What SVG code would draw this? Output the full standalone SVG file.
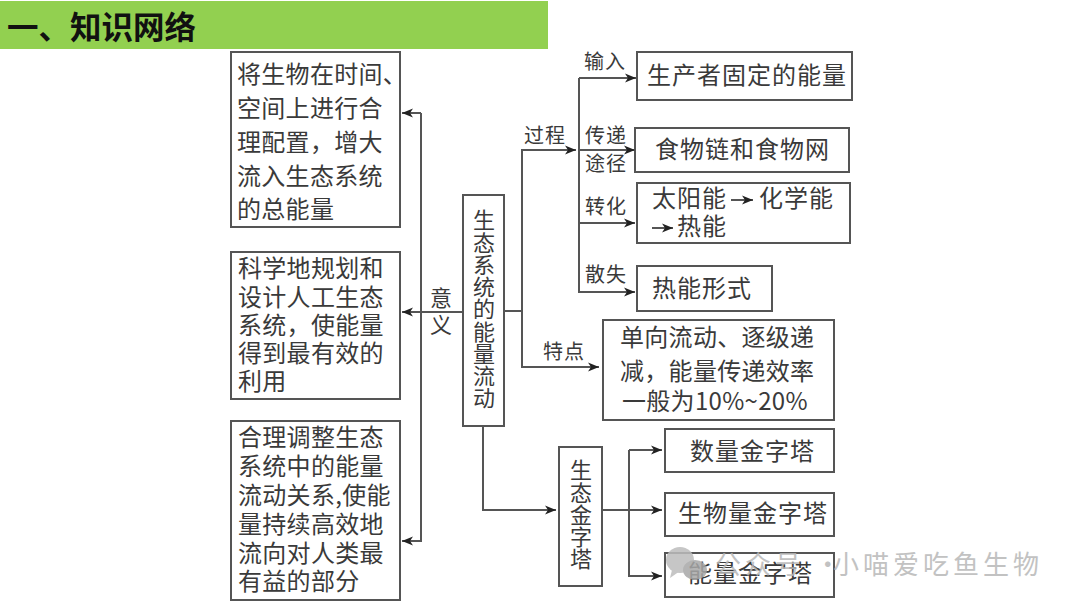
<svg xmlns="http://www.w3.org/2000/svg" width="1080" height="607" viewBox="0 0 1080 607">
<style>
text{font-family:"Noto Sans CJK SC","Noto Sans",sans-serif;dominant-baseline:central;fill:#3a3a3a}
.box{fill:#fff;stroke:#555;stroke-width:2}
.t{font-size:24px;letter-spacing:.3px}
.b{font-size:24px;letter-spacing:1px}
.l{font-size:20px;letter-spacing:1px}
.v{font-size:22px;writing-mode:vertical-rl;letter-spacing:.25px}
.c{fill:none;stroke:#555;stroke-width:2}
.w{fill:#b8b8b8;font-size:26px;letter-spacing:4px}
</style>
<defs>
<marker id="a" markerUnits="userSpaceOnUse" markerWidth="12" markerHeight="10" refX="11" refY="5" orient="auto"><path d="M0 .5L11 5L0 9.500L3 5Z" fill="#222"/></marker>
</defs>
<rect width="1080" height="607" fill="#fff"/>
<g id="title"><rect x="0" y="1" width="548" height="48" fill="#92d050"/><text x="7" y="24.500" style="font-size:31.500px;font-weight:700;fill:#111">一、知识网络</text></g>
<g id="node-meaning-1"><rect class="box" x="231" y="52" width="169" height="175"/>
<text class="t"><tspan x="237" y="71.500">将生物在时间、</tspan><tspan x="237" y="105.500">空间上进行合</tspan><tspan x="237" y="139.500">理配置，增大</tspan><tspan x="237" y="173.500">流入生态系统</tspan><tspan x="237" y="206.500">的总能量</tspan></text></g>
<g id="node-meaning-2"><rect class="box" x="231" y="252" width="169" height="147"/>
<text class="t"><tspan x="238" y="265.500">科学地规划和</tspan><tspan x="238" y="294.500">设计人工生态</tspan><tspan x="238" y="322.500">系统，使能量</tspan><tspan x="238" y="350.500">得到最有效的</tspan><tspan x="238" y="378.500">利用</tspan></text></g>
<g id="node-meaning-3"><rect class="box" x="231" y="421" width="169" height="179"/>
<text class="t"><tspan x="238" y="434.500">合理调整生态</tspan><tspan x="238" y="463.500">系统中的能量</tspan><tspan x="238" y="492.500">流动关系,使能</tspan><tspan x="238" y="521.500">量持续高效地</tspan><tspan x="238" y="550.500">流向对人类最</tspan><tspan x="238" y="578.500">有益的部分</tspan></text></g>
<g id="node-center"><rect class="box" x="463" y="195" width="41" height="231"/>
<text class="v" x="484" y="209">生态系统的能量流动</text></g>
<g id="node-producer"><rect class="box" x="637" y="52" width="215" height="48"/><text class="b" x="647" y="73.500">生产者固定的能量</text></g>
<g id="node-foodchain"><rect class="box" x="635" y="128" width="214" height="44"/><text class="b" x="655" y="147.500">食物链和食物网</text></g>
<g id="node-convert"><rect class="box" x="637" y="183" width="213" height="60"/>
<text class="b" x="652" y="196.500">太阳能</text><line class="c" x1="731" y1="200" x2="753" y2="200" marker-end="url(#a)"/><text class="b" x="759" y="196.500">化学能</text>
<line class="c" x1="652" y1="228" x2="673" y2="228" marker-end="url(#a)"/><text class="b" x="677" y="224.500">热能</text></g>
<g id="node-heat"><rect class="box" x="637" y="266" width="135" height="45"/><text class="b" x="652" y="286.500">热能形式</text></g>
<g id="node-feature"><rect class="box" x="603" y="320" width="231" height="100"/>
<text class="t"><tspan x="620" y="334.500">单向流动、逐级递</tspan><tspan x="620" y="368.500">减，能量传递效率</tspan><tspan x="622" y="398.500">一般为10%~20%</tspan></text></g>
<g id="node-pyramid"><rect class="box" x="559" y="447" width="43" height="139"/>
<text class="v" x="581" y="459">生态金字塔</text></g>
<g id="node-number"><rect class="box" x="665" y="429" width="169" height="43"/><text class="b" x="690" y="449.500">数量金字塔</text></g>
<g id="node-biomass"><rect class="box" x="665" y="493" width="169" height="43"/><text class="b" x="678" y="511.500">生物量金字塔</text></g>
<g id="node-energy"><rect class="box" x="665" y="553" width="169" height="44"/><text class="b" x="688" y="571.500">能量金字塔</text></g>
<g id="connectors">
<path class="c" d="M463 312H402" marker-end="url(#a)"/>
<path class="c" d="M421 113V541H402" marker-end="url(#a)"/>
<path class="c" d="M421 113H402" marker-end="url(#a)"/>
<path class="c" d="M504 311H522V150H576" marker-end="url(#a)"/>
<path class="c" d="M522 311V367H599" marker-end="url(#a)"/>
<path class="c" d="M579 78V292H635" marker-end="url(#a)"/>
<path class="c" d="M579 78H636" marker-end="url(#a)"/>
<path class="c" d="M579 150H635" marker-end="url(#a)"/>
<path class="c" d="M579 223H635" marker-end="url(#a)"/>
<path class="c" d="M483 426V510H556" marker-end="url(#a)"/>
<path class="c" d="M602 510H662" marker-end="url(#a)"/>
<path class="c" d="M629 450V576H662" marker-end="url(#a)"/>
<path class="c" d="M629 450H662" marker-end="url(#a)"/>
</g>
<g id="labels">
<text class="l" x="584" y="60.500">输入</text><text class="l" x="524" y="134.500">过程</text><text class="l"><tspan x="585" y="133.500">传递</tspan><tspan x="585" y="161.500">途径</tspan></text><text class="l" x="585" y="205.500">转化</text><text class="l" x="585" y="273.500">散失</text><text class="l" x="543" y="350.500">特点</text>
<text class="v" x="441" y="287" style="letter-spacing:5px">意义</text>
</g>
<g id="watermark" opacity=".85">
<ellipse cx="680" cy="560" rx="14" ry="13" fill="#bdbdbd"/><path d="M672 570L670 578L680 571Z" fill="#bdbdbd"/>
<ellipse cx="695" cy="570" rx="12" ry="10" fill="#a8a8a8"/>
<text class="w" x="715" y="562">公众号 ·</text><text class="w" x="833" y="562">小喵爱吃鱼生物</text>
</g>
</svg>
